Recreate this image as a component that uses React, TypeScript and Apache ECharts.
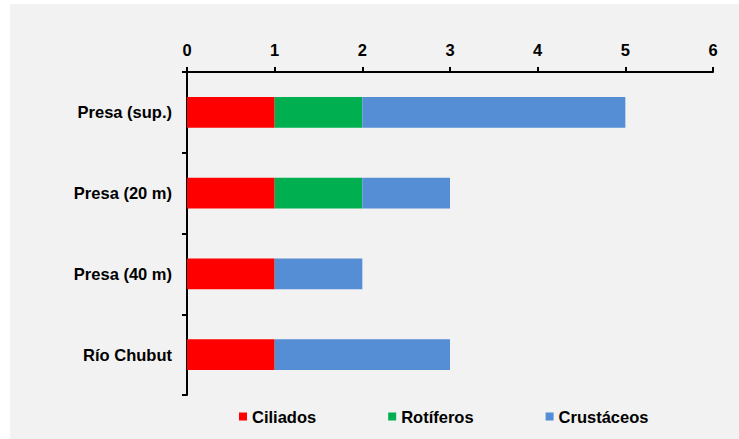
import React, { useEffect, useRef } from "react";
import * as echarts from "echarts";

const categories = ["Presa (sup.)", "Presa (20 m)", "Presa (40 m)", "Río Chubut"];
const seriesNames = ["Ciliados", "Rotíferos", "Crustáceos"];
const ciliados = [1, 1, 1, 1];
const rotiferos = [1, 1, 0, 0];
const crustaceos = [3, 1, 1, 2];
const colors = ["#FF0000", "#00B050", "#558ED5"];

const FONT = "'Liberation Sans', Arial, sans-serif";

export default function App() {
  const ref = useRef<HTMLDivElement>(null);
  useEffect(() => {
    if (!ref.current) return;
    const chart = echarts.init(ref.current, null, { renderer: "svg" });
    const values = [ciliados, rotiferos, crustaceos];
    chart.setOption({
      animation: false,
      backgroundColor: "#ffffff",
      textStyle: { fontFamily: FONT },
      graphic: [
        {
          type: "rect",
          z: -10,
          silent: true,
          shape: { x: 10, y: 4, width: 729, height: 435 },
          style: { fill: "#F2F2F2" },
        },
      ],
      grid: { left: 187, right: 26, top: 72, bottom: 44, containLabel: false },
      legend: {
        data: seriesNames,
        left: 239,
        top: 408,
        padding: 0,
        itemWidth: 8,
        itemHeight: 8,
        itemGap: 72,
        icon: "rect",
        textStyle: { fontFamily: FONT, fontWeight: "bold", fontSize: 16.5, color: "#000" },
      },
      xAxis: {
        type: "value",
        position: "top",
        min: 0,
        max: 6,
        interval: 1,
        axisLine: { show: true, lineStyle: { color: "#000", width: 2 } },
        axisTick: { show: true, inside: false, length: 5, lineStyle: { color: "#000", width: 2 } },
        splitLine: { show: false },
        axisLabel: { fontFamily: FONT, fontWeight: "bold", fontSize: 16.5, color: "#000", margin: 14 },
      },
      yAxis: {
        type: "category",
        inverse: true,
        data: categories,
        axisLine: { show: true, lineStyle: { color: "#000", width: 2 } },
        axisTick: { show: true, inside: false, length: 5, lineStyle: { color: "#000", width: 2 } },
        axisLabel: { fontFamily: FONT, fontWeight: "bold", fontSize: 16.5, color: "#000", margin: 15 },
      },
      series: seriesNames.map((name, i) => ({
        name,
        type: "bar",
        stack: "total",
        barWidth: "38%",
        data: values[i],
        itemStyle: { color: colors[i] },
      })),
    });
    return () => chart.dispose();
  }, []);
  return (
    <div style={{ position: "absolute", left: 0, top: 0, width: 739, height: 439, background: "#fff" }}>
      <div ref={ref} style={{ width: 739, height: 439 }} />
    </div>
  );
}
